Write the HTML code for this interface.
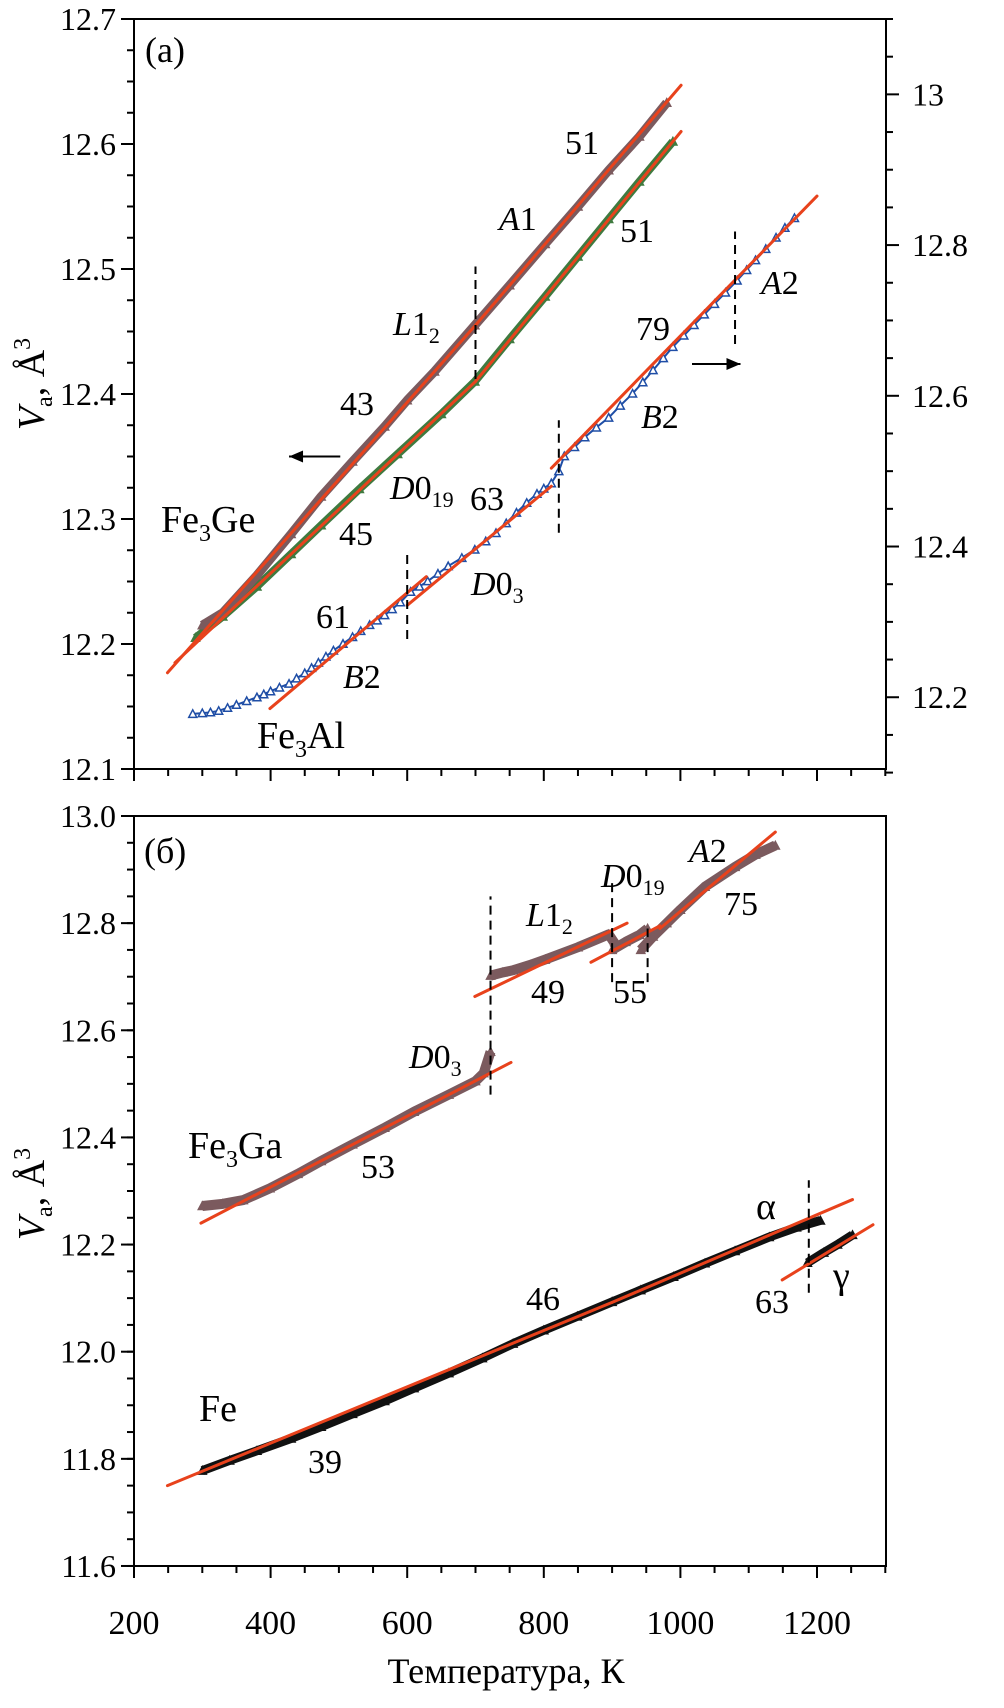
<!DOCTYPE html>
<html><head><meta charset="utf-8"><style>
html,body{margin:0;padding:0;background:#fff}
svg{display:block;font-family:"Liberation Serif",serif}
svg text{font-family:"Liberation Serif",serif}
</style></head><body>
<svg id="chart" xmlns="http://www.w3.org/2000/svg" width="1004" height="1708" viewBox="0 0 1004 1708" font-family="Liberation Serif, serif"></svg>
<script>
// ---- data (T in K, Va in Å^3) ----
const geT = [300,330,380,430,474,520,567,600,640,699,750,802,850,895,940,980];
const geV = [12.215,12.225,12.255,12.288,12.318,12.346,12.374,12.395,12.418,12.455,12.487,12.520,12.550,12.579,12.606,12.633];
const ge2T = [290,330,380,430,474,530,586,650,699,750,802,850,895,940,989];
const ge2V = [12.205,12.222,12.246,12.272,12.295,12.324,12.352,12.384,12.410,12.444,12.478,12.510,12.540,12.570,12.602];
const alT = [286,300,312,324,337,350,365,380,390,400,413,427,438,450,460,470,481,492,506,520,532,545,556,567,578,590,605,618,630,645,660,680,699,715,730,745,760,775,790,800,811,822,830,845,860,877,895,912,930,945,960,975,989,1005,1020,1035,1050,1066,1083,1097,1110,1125,1140,1153,1167];
const alV = [12.178,12.179,12.180,12.182,12.186,12.190,12.195,12.200,12.204,12.208,12.213,12.218,12.225,12.232,12.239,12.246,12.254,12.262,12.271,12.280,12.288,12.296,12.302,12.309,12.317,12.326,12.340,12.347,12.354,12.364,12.374,12.385,12.396,12.407,12.418,12.431,12.445,12.458,12.470,12.477,12.484,12.500,12.520,12.532,12.545,12.558,12.571,12.587,12.603,12.618,12.634,12.650,12.665,12.680,12.694,12.708,12.722,12.737,12.753,12.767,12.780,12.795,12.810,12.823,12.836];
const gaT1 = [300,330,360,399,440,474,520,567,610,661,700,712,722];
const gaV1 = [12.272,12.276,12.283,12.305,12.332,12.356,12.387,12.418,12.448,12.480,12.505,12.520,12.560];
const gaT2 = [722,740,755,780,802,850,895,905];
const gaV2 = [12.702,12.708,12.712,12.722,12.732,12.755,12.779,12.760];
const gaT3 = [900,920,940,952];
const gaV3 = [12.750,12.765,12.778,12.790];
const gaT4 = [942,960,980,1000,1036,1080,1110,1139];
const gaV4 = [12.750,12.775,12.800,12.825,12.868,12.905,12.928,12.945];
const feT = [300,340,380,430,474,520,567,610,661,710,755,800,849,900,942,990,1036,1080,1130,1170,1205];
const feV = [11.778,11.797,11.815,11.838,11.860,11.884,11.908,11.932,11.960,11.988,12.015,12.040,12.066,12.093,12.115,12.140,12.165,12.188,12.214,12.232,12.245];
const fgT = [1186,1210,1230,1252];
const fgV = [12.166,12.185,12.200,12.218];
// fits: [T1,V1,T2,V2]
const fitsTopL = [[249,12.177,700,12.455],[700,12.455,1001,12.647],[260,12.185,700,12.41],[700,12.41,1001,12.61]];
const fitsTopR = [[399,12.185,628,12.36],[600,12.322,811,12.48],[811,12.504,1200,12.865]];
const fitsBot = [[298,12.24,752,12.54],[699,12.663,922,12.80],[869,12.727,970,12.795],[970,12.79,1139,12.97],[249,11.75,900,12.092],[900,12.092,1252,12.284],[1149,12.134,1282,12.237]];
const dashTop = [[700,12.412,12.502],[600,12.204,12.276],[822,12.289,12.379],[1080,12.44,12.53]];
const dashBot = [[722,12.48,12.85],[900,12.69,12.88],[952,12.69,12.79],[1188,12.11,12.32]];
const xTicks = [200,400,600,800,1000,1200];
const yTopTicks = [12.1,12.2,12.3,12.4,12.5,12.6,12.7];
const yRTicks = [12.2,12.4,12.6,12.8,13];
const yBotTicks = [11.6,11.8,12.0,12.2,12.4,12.6,12.8,13.0];

// ---- axes ----
const L=134,R=886,TT=19,TB=769,BT=816,BB=1566;
const X=t=>L+(t-200)*0.683;
const YL=v=>TT+(12.7-v)*1250;
const YR=v=>TT+(13.1-v)*753.6;
const YB=v=>BT+(13-v)*535.7;
const svg=document.getElementById('chart');
const NS='http://www.w3.org/2000/svg';
function mk(tag,attrs,parent){const e=document.createElementNS(NS,tag);for(const k in attrs)e.setAttribute(k,attrs[k]);(parent||svg).appendChild(e);return e;}
function txt(x,y,s,size,anchor,parent){const e=mk('text',{x:x,y:y,'font-size':size,'text-anchor':anchor||'start','font-family':'Liberation Serif, serif'},parent);e.innerHTML=s;return e;}

function panel(top,bot,name,minorY,yFn,ticks,lo,hi){
  const g=mk('g',{});
  
  
  mk('rect',{x:L,y:top,width:R-L,height:bot-top,fill:'none',stroke:'#000','stroke-width':2},g);
  for(let t=200;t<=1300;t+=50){const major=t%200===0;mk('line',{x1:X(t),x2:X(t),y1:bot,y2:bot+(major?12:7),stroke:'#000','stroke-width':2},g);}
  for(let v=lo;v<=hi+1e-9;v+=minorY){mk('line',{x1:L-7,x2:L,y1:yFn(v),y2:yFn(v),stroke:'#000','stroke-width':2},g);}
  ticks.forEach(v=>{mk('line',{x1:L-13,x2:L,y1:yFn(v),y2:yFn(v),stroke:'#000','stroke-width':2},g);
    const t=txt(L-18,yFn(v)+11,v.toFixed(1),32,'end',g);
    });
  return g;
}
const gTop=panel(TT,TB,'panel-a',0.025,YL,yTopTicks,12.1,12.7);
for(let v=12.1;v<=13.1+1e-9;v+=0.05){const maj=yRTicks.some(m=>Math.abs(m-v)<1e-6);mk('line',{x1:R,x2:R+(maj?13:7),y1:YR(v),y2:YR(v),stroke:'#000','stroke-width':2},gTop);}
yRTicks.forEach(v=>{const t=txt(R+26,YR(v)+11,String(v),32,'start',gTop);});
const gBot=panel(BT,BB,'panel-b',0.05,YB,yBotTicks,11.6,13.0);
xTicks.forEach(t=>{const e=txt(X(t),1634,String(t),34,'middle');});
const xt=txt(506,1683,'Температура, К',36,'middle');

[[384,'y-axis-title-a'],[1194,'y-axis-title-b']].forEach(([cy,n])=>{
  const t=mk('text',{x:0,y:0,'font-size':38,'text-anchor':'middle','font-family':'Liberation Serif, serif',transform:`translate(44,${cy}) rotate(-90)`});
  t.innerHTML='<tspan font-style="italic">V</tspan><tspan font-size="24" dy="8">a</tspan><tspan dy="-8">, Å</tspan><tspan font-size="24" dy="-14">3</tspan>';
  
});

// ---- series ----
function series(T,V,yFn,color,name,width,fill){
  const g=mk('g',{});
  
  
  mk('polyline',{points:T.map((t,i)=>X(t)+','+yFn(V[i])).join(' '),fill:'none',stroke:color,'stroke-width':width,'stroke-linejoin':'round'},g);
  T.forEach((t,i)=>{const x=X(t),y=yFn(V[i]);
    const p=mk('polygon',{points:`${x-4},${y+3.5} ${x+4},${y+3.5} ${x},${y-4}`,fill:fill?color:'#fff',stroke:color,'stroke-width':1.5},g);
    
    });
}
series(ge2T,ge2V,YL,'#3f7a3f','fe3ge-d019-series',8,true);
series(geT,geV,YL,'#7b5a5e','fe3ge-series',9,true);
series(alT,alV,YR,'#1f4ea6','fe3al-series',2,false);
series(gaT1,gaV1,YB,'#7b5a5e','fe3ga-d03-series',10,true);
series(gaT2,gaV2,YB,'#7b5a5e','fe3ga-l12-series',10,true);
series(gaT3,gaV3,YB,'#7b5a5e','fe3ga-d019-series',10,true);
series(gaT4,gaV4,YB,'#7b5a5e','fe3ga-a2-series',10,true);
series(feT,feV,YB,'#111','fe-alpha-series',9,true);
series(fgT,fgV,YB,'#111','fe-gamma-series',9,true);

function fits(arr,yFn,name){arr.forEach(f=>{const l=mk('line',{x1:X(f[0]),y1:yFn(f[1]),x2:X(f[2]),y2:yFn(f[3]),stroke:'#e8421c','stroke-width':3,'stroke-linecap':'round'});
  });}
fits(fitsTopL,YL,'fit-line-fe3ge');fits(fitsTopR,YR,'fit-line-fe3al');fits(fitsBot,YB,'fit-line-b');
function dashes(arr,yFn){arr.forEach(d=>{const l=mk('line',{x1:X(d[0]),x2:X(d[0]),y1:yFn(d[1]),y2:yFn(d[2]),stroke:'#000','stroke-width':2,'stroke-dasharray':'9,6'});
  });}
dashes(dashTop,YL);dashes(dashBot,YB);

// arrows
[[X(502),YL(12.35),X(427),'left-axis-arrow'],[X(1017),YL(12.424),X(1088),'right-axis-arrow']].forEach(([x1,y,x2,n])=>{
  const g=mk('g',{});
  mk('line',{x1:x1,y1:y,x2:x2,y2:y,stroke:'#000','stroke-width':2},g);
  const d=x2<x1?1:-1;
  mk('polygon',{points:`${x2},${y} ${x2+d*14},${y-6} ${x2+d*14},${y+6}`,fill:'#000'},g);
});

// labels
const labels=[
 [145,62,'(a)',36,'panel-label-a'],[144,863,'(б)',36,'panel-label-b'],
 [565,154,'51',34,'slope-label'],[499,230,'<tspan font-style="italic">A</tspan>1',34,'phase-label'],
 [620,242,'51',34,'slope-label'],[393,335,'<tspan font-style="italic">L</tspan>1<tspan font-size="22" dy="8">2</tspan>',34,'phase-label'],
 [340,415,'43',34,'slope-label'],[161,532,'Fe<tspan font-size="24" dy="9">3</tspan><tspan dy="-9">Ge</tspan>',38,'fe3ge-label'],
 [339,545,'45',34,'slope-label'],[390,499,'<tspan font-style="italic">D</tspan>0<tspan font-size="22" dy="8">19</tspan>',34,'phase-label'],
 [470,510,'63',34,'slope-label'],[471,595,'<tspan font-style="italic">D</tspan>0<tspan font-size="22" dy="8">3</tspan>',34,'phase-label'],
 [316,628,'61',34,'slope-label'],[343,688,'<tspan font-style="italic">B</tspan>2',34,'phase-label'],
 [257,748,'Fe<tspan font-size="24" dy="9">3</tspan><tspan dy="-9">Al</tspan>',38,'fe3al-label'],
 [636,340,'79',34,'slope-label'],[761,294,'<tspan font-style="italic">A</tspan>2',34,'phase-label'],
 [641,428,'<tspan font-style="italic">B</tspan>2',34,'phase-label'],
 [689,862,'<tspan font-style="italic">A</tspan>2',34,'phase-label'],
 [601,887,'<tspan font-style="italic">D</tspan>0<tspan font-size="22" dy="8">19</tspan>',34,'phase-label'],
 [526,926,'<tspan font-style="italic">L</tspan>1<tspan font-size="22" dy="8">2</tspan>',34,'phase-label'],
 [724,915,'75',34,'slope-label'],[531,1003,'49',34,'slope-label'],[613,1003,'55',34,'slope-label'],
 [409,1068,'<tspan font-style="italic">D</tspan>0<tspan font-size="22" dy="8">3</tspan>',34,'phase-label'],
 [188,1158,'Fe<tspan font-size="24" dy="9">3</tspan><tspan dy="-9">Ga</tspan>',38,'fe3ga-label'],
 [361,1178,'53',34,'slope-label'],[756,1219,'α',38,'alpha-label'],[833,1288,'γ',38,'gamma-label'],
 [755,1313,'63',34,'slope-label'],[526,1310,'46',34,'slope-label'],[199,1421,'Fe',38,'fe-label'],[308,1473,'39',34,'slope-label']
];
labels.forEach(([x,y,s,f,n])=>{const t=txt(x,y,s,f,'start');});
</script>
</body></html>
